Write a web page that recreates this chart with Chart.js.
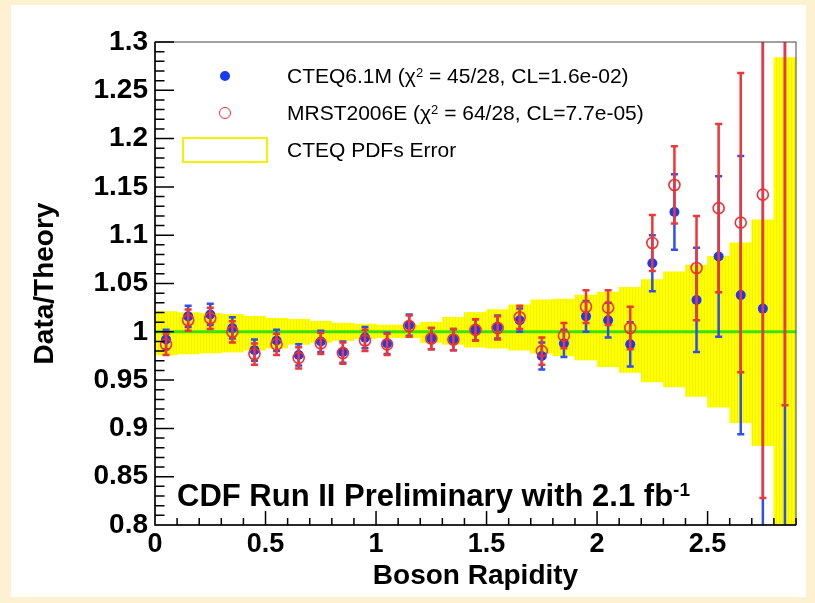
<!DOCTYPE html>
<html>
<head>
<meta charset="utf-8">
<script src="https://cdn.jsdelivr.net/npm/chart.js@4.4.0/dist/chart.umd.min.js"></script>
<style>
  html, body { margin: 0; padding: 0; }
  body { width: 815px; height: 603px; background: #fdf1d2; position: relative; overflow: hidden;
         font-family: 'Liberation Sans', Arial, sans-serif; color: #000; }
  #panel { position: absolute; left: 11px; top: 5px; width: 795px; height: 592px; background: #fff; }
  #wrap { position: absolute; left: 0; top: 0; width: 815px; height: 603px; }
  .txt { position: absolute; white-space: nowrap; }
  .leg { font-size: 21px; line-height: 21px; left: 287px; }
  .leg sup { font-size: 13px; vertical-align: 0.5em; line-height: 0; }
  .mark { position: absolute; box-sizing: border-box; border-radius: 50%; }
  #cdf { left: 177px; top: 480px; font-size: 31px; line-height: 31px; font-weight: bold; }
  #cdf sup { font-size: 19px; vertical-align: 0.55em; line-height: 0; }
</style>
</head>
<body>
<div id="panel"></div>
<div id="wrap"><canvas id="chart" width="815" height="603"></canvas></div>

<div class="mark" style="left:220px;top:71px;width:10px;height:10px;background:#1a3cf0;"></div>
<div class="txt leg" style="top:65px;">CTEQ6.1M (&chi;<sup>2</sup> = 45/28, CL=1.6e-02)</div>
<div class="mark" style="left:219px;top:107px;width:12px;height:12px;border:1.6px solid #f03030;"></div>
<div class="txt leg" style="top:102px;">MRST2006E (&chi;<sup>2</sup> = 64/28, CL=7.7e-05)</div>
<div style="position:absolute;left:182px;top:137px;width:86px;height:26px;box-sizing:border-box;border:2px solid #f2f200;"></div>
<div class="txt leg" style="top:139px;">CTEQ PDFs Error</div>
<div class="txt" id="cdf">CDF Run II Preliminary with 2.1 fb<sup>-1</sup></div>

<script>
// bins of boson rapidity, width 0.1
const binCenters = [0.05, 0.15, 0.25, 0.35, 0.45, 0.55, 0.65, 0.75, 0.85, 0.95,
                    1.05, 1.15, 1.25, 1.35, 1.45, 1.55, 1.65, 1.75, 1.85, 1.95,
                    2.05, 2.15, 2.25, 2.35, 2.45, 2.55, 2.65, 2.75, 2.85];

// Data / CTEQ6.1M
const cteqRatio = [0.992, 1.016, 1.018, 1.004, 0.981, 0.991, 0.976, 0.990, 0.979, 0.994,
                   0.988, 1.007, 0.993, 0.992, 1.002, 1.005, 1.012, 0.975, 0.988, 1.016,
                   1.012, 0.987, 1.071, 1.124, 1.033, 1.078, 1.038, 1.024, 1.35];
const cteqErr = [0.010, 0.011, 0.011, 0.011, 0.011, 0.011, 0.011, 0.011, 0.011, 0.011,
                 0.011, 0.011, 0.011, 0.011, 0.011, 0.012, 0.012, 0.014, 0.014, 0.016,
                 0.018, 0.023, 0.029, 0.039, 0.054, 0.083, 0.144, 0.30, 0.6];

// Data / MRST2006E
const mrstRatio = [0.987, 1.012, 1.014, 1.000, 0.977, 0.987, 0.973, 0.988, 0.978, 0.991,
                   0.987, 1.006, 0.993, 0.992, 1.002, 1.004, 1.015, 0.980, 0.996, 1.026,
                   1.025, 1.004, 1.092, 1.152, 1.066, 1.128, 1.113, 1.142, 1.40];
const mrstErr = [0.011, 0.011, 0.011, 0.011, 0.011, 0.011, 0.011, 0.011, 0.011, 0.011,
                 0.011, 0.011, 0.011, 0.011, 0.011, 0.012, 0.012, 0.014, 0.013, 0.017,
                 0.018, 0.022, 0.029, 0.040, 0.054, 0.087, 0.155, 0.314, 0.476];

// CTEQ PDF error band (up / down from 1)
const pdfErrUp = [0.021, 0.020, 0.019, 0.018, 0.016, 0.014, 0.013, 0.011, 0.009, 0.008,
                  0.007, 0.007, 0.010, 0.015, 0.020, 0.023, 0.028, 0.033, 0.034, 0.038,
                  0.041, 0.046, 0.054, 0.062, 0.069, 0.078, 0.092, 0.116, 0.284];
const pdfErrDown = [0.024, 0.023, 0.022, 0.021, 0.019, 0.017, 0.013, 0.011, 0.009, 0.007,
                    0.006, 0.006, 0.011, 0.013, 0.016, 0.017, 0.019, 0.022, 0.025, 0.029,
                    0.036, 0.042, 0.052, 0.057, 0.067, 0.078, 0.094, 0.118, 0.30];

const xRange = [0, 2.9];
const yRange = [0.8, 1.3];
const xTicks = [0, 0.5, 1, 1.5, 2, 2.5];
const yTicks = [0.8, 0.85, 0.9, 0.95, 1, 1.05, 1.1, 1.15, 1.2, 1.25, 1.3];
const refLine = 1.0;

// faint vertical stripes like the ROOT fill
function stripes() {
  const c = document.createElement('canvas');
  c.width = 3; c.height = 1;
  const g = c.getContext('2d');
  g.fillStyle = '#ffff00'; g.fillRect(0, 0, 3, 1);
  g.fillStyle = '#f3f300'; g.fillRect(2, 0, 1, 1);
  return g.createPattern(c, 'repeat');
}

// error bars drawn just before each marker set
const errorBars = {
  id: 'errorBars',
  beforeDatasetDraw(chart, args) {
    const ds = chart.data.datasets[args.index];
    if (!ds.errors) return;
    const { ctx, chartArea: a, scales: { x, y } } = chart;
    ctx.save();
    ctx.beginPath();
    ctx.rect(a.left, a.top, a.width, a.height);
    ctx.clip();
    ctx.strokeStyle = ds.barColor;
    ctx.lineWidth = 2.5;
    ds.data.forEach((p, i) => {
      const px = x.getPixelForValue(p.x);
      const lo = y.getPixelForValue(p.y - ds.errors[i]);
      const hi = y.getPixelForValue(p.y + ds.errors[i]);
      ctx.beginPath();
      ctx.moveTo(px, lo); ctx.lineTo(px, hi);
      ctx.moveTo(px - 3.5, lo); ctx.lineTo(px + 3.5, lo);
      ctx.moveTo(px - 3.5, hi); ctx.lineTo(px + 3.5, hi);
      ctx.stroke();
    });
    ctx.restore();
  }
};

// ROOT style frame with inside tick marks
const frameTicks = {
  id: 'frameTicks',
  afterDatasetsDraw(chart) {
    const { ctx, chartArea: a, scales: { x, y } } = chart;
    ctx.save();
    ctx.strokeStyle = '#444';
    ctx.lineWidth = 1;
    ctx.strokeRect(a.left, a.top, a.width, a.height);

    ctx.strokeStyle = '#000';
    ctx.lineWidth = 1.5;
    ctx.beginPath();
    ctx.moveTo(a.left, a.top); ctx.lineTo(a.left, a.bottom); ctx.lineTo(a.right, a.bottom);
    // y: major every 0.05, minor every 0.01
    for (let i = 0; i <= 50; i++) {
      const py = y.getPixelForValue(yRange[0] + i * 0.01);
      const len = i % 5 === 0 ? 19 : 9.5;
      ctx.moveTo(a.left, py); ctx.lineTo(a.left + len, py);
    }
    // x: major every 0.5, minor every 0.1
    for (let i = 0; i <= 29; i++) {
      const px = x.getPixelForValue(xRange[0] + i * 0.1);
      const len = i % 5 === 0 ? 14 : 7;
      ctx.moveTo(px, a.bottom); ctx.lineTo(px, a.bottom - len);
    }
    ctx.stroke();
    ctx.restore();
  }
};

const xTickFont = { family: 'Liberation Sans', size: 27, weight: 'bold' };
const yTickFont = { family: 'Liberation Sans', size: 28, weight: 'bold' };
const titleFont = { family: 'Liberation Sans', size: 28, weight: 'bold' };

new Chart(document.getElementById('chart'), {
  type: 'scatter',
  data: {
    datasets: [
      {
        type: 'bar',
        label: 'CTEQ PDFs Error',
        data: binCenters.map((c, i) => ({ x: c, y: [refLine - pdfErrDown[i], refLine + pdfErrUp[i]] })),
        backgroundColor: stripes(),
        borderWidth: 0,
        barPercentage: 1,
        categoryPercentage: 1,
        grouped: false,
        order: 5
      },
      {
        type: 'line',
        label: 'ref',
        data: xRange.map(v => ({ x: v, y: refLine })),
        borderColor: '#3be400',
        borderWidth: 3,
        pointRadius: 0,
        order: 4
      },
      {
        label: 'CTEQ6.1M',
        data: binCenters.map((c, i) => ({ x: c, y: cteqRatio[i] })),
        errors: cteqErr,
        barColor: '#3050ee',
        pointRadius: 5,
        pointBackgroundColor: '#1a3cf0',
        pointBorderWidth: 0,
        order: 2
      },
      {
        label: 'MRST2006E',
        data: binCenters.map((c, i) => ({ x: c, y: mrstRatio[i] })),
        errors: mrstErr,
        barColor: '#f03636',
        pointRadius: 5.5,
        pointBackgroundColor: 'rgba(0,0,0,0)',
        pointBorderColor: '#f03030',
        pointBorderWidth: 1.6,
        order: 1
      }
    ]
  },
  options: {
    responsive: false,
    animation: false,
    layout: { padding: { top: 42, right: 19, left: 0, bottom: 0 } },
    plugins: { legend: { display: false }, tooltip: { enabled: false } },
    scales: {
      x: {
        type: 'linear',
        min: xRange[0], max: xRange[1],
        offset: false,
        afterBuildTicks: s => { s.ticks = xTicks.map(v => ({ value: v })); },
        afterFit: s => { s.height = 78; },
        grid: { display: false, drawTicks: false },
        border: { display: false },
        ticks: { font: xTickFont, color: '#000', padding: 3, maxRotation: 0, autoSkip: false,
                 callback: v => String(v) },
        title: { display: true, text: 'Boson Rapidity', font: titleFont, color: '#000',
                 padding: { top: 0, bottom: 10 } }
      },
      y: {
        type: 'linear',
        min: yRange[0], max: yRange[1],
        afterBuildTicks: s => { s.ticks = yTicks.map(v => ({ value: v })); },
        afterFit: s => { s.width = 155; },
        grid: { display: false, drawTicks: false },
        border: { display: false },
        ticks: { font: yTickFont, color: '#000', padding: 7, autoSkip: false,
                 callback: v => String(+v.toFixed(2)) },
        title: { display: true, text: 'Data/Theory', font: titleFont, color: '#000',
                 padding: { top: 28, bottom: 0 } }
      }
    }
  },
  plugins: [errorBars, frameTicks]
});
</script>
</body>
</html>
